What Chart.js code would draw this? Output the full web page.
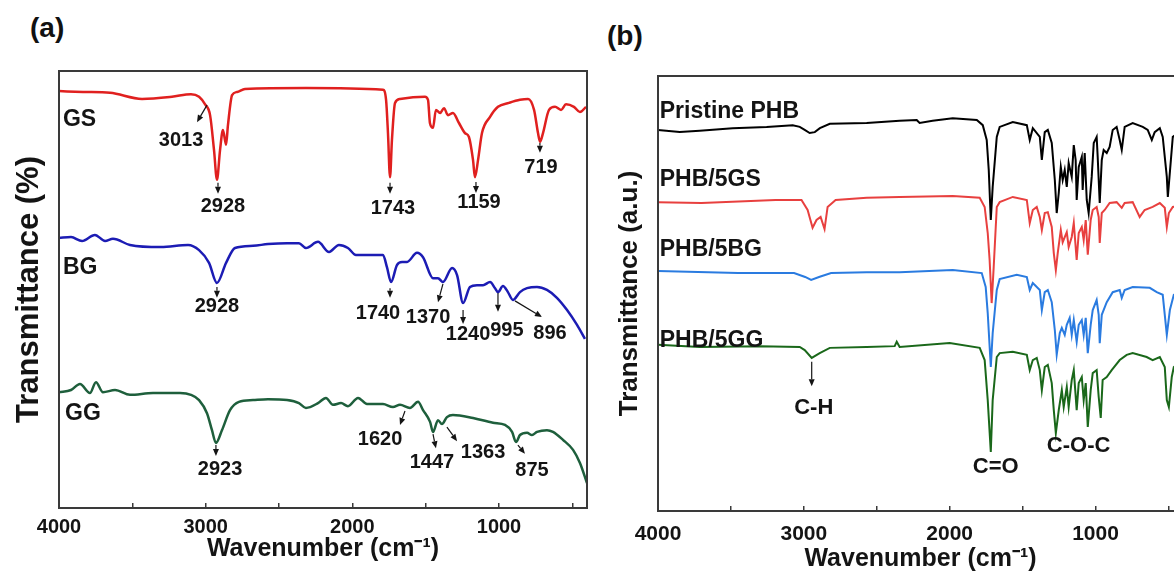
<!DOCTYPE html>
<html><head><meta charset="utf-8">
<script src="https://cdn.jsdelivr.net/npm/chart.js@4.4.1/dist/chart.umd.min.js"></script>
<style>
html,body{margin:0;padding:0;background:#fff;width:1174px;height:574px;overflow:hidden;position:relative;font-family:"Liberation Sans",Arial,sans-serif}
canvas{position:absolute;top:0}
#ca{left:0}
#cb{left:600px}
.plab{position:absolute;font-weight:bold;font-size:28px;line-height:1;color:#111;white-space:nowrap}
</style></head><body>
<div class="plab" style="left:30px;top:14px">(a)</div>
<div class="plab" style="left:607px;top:22px">(b)</div>
<canvas id="ca" width="600" height="574"></canvas>
<canvas id="cb" width="600" height="574"></canvas>
<script>
// ---------- Panel (a) data: wavenumber (cm-1) and transmittance (offset, %) ----------
const gsWave = [4000,3836,3652,3434,3230,3100,3045,3005,2970,2943,2923,2902,2882,2861,2848,2820,2786,2732,2316,1791,1770,1757,1743,1730,1709,1675,1505,1484,1471,1450,1430,1402,1375,1348,1314,1273,1232,1205,1177,1164,1143,1116,1061,1007,932,857,802,761,734,720,700,659,618,577,543,489,448,407];
const gsT = [95.4,95.2,95.0,93.6,94.1,94.7,94.1,92.4,89.9,81.9,75.1,81.9,86.5,83.1,87.6,94.5,95.2,95.9,96.1,95.7,93.4,85.8,75.7,84.2,92.7,93.6,94.1,93.4,88.1,87.0,91.1,90.4,91.5,89.9,90.4,88.1,85.8,84.9,79.6,75.7,79.6,85.8,89.5,91.8,92.7,93.4,93.6,91.1,85.8,83.8,85.8,91.1,91.8,91.1,92.4,91.8,90.6,91.8];
const bgWave = [4000,3918,3843,3755,3686,3632,3516,3305,3120,3045,2977,2923,2861,2800,2677,2575,2445,2364,2316,2234,2159,2091,2030,1975,1791,1764,1736,1696,1661,1627,1559,1518,1450,1416,1382,1320,1286,1245,1198,1150,1109,1061,1027,1007,973,939,905,857,809,741,673,605,536,468,414];
const bgT = [61.8,62.0,61.1,62.5,61.1,61.6,60.2,59.7,60.2,59.0,56.1,51.5,56.1,59.5,60.0,60.4,60.6,60.6,59.5,60.9,58.6,60.2,59.5,57.9,57.9,55.1,51.7,55.6,56.3,56.3,58.4,57.4,52.6,52.6,51.7,54.9,53.3,46.9,50.6,51.0,51.0,51.7,50.3,49.4,50.8,49.4,47.6,49.4,50.3,50.6,49.9,48.1,45.3,41.9,38.7];
const ggWave = [4000,3918,3857,3789,3748,3700,3618,3516,3359,3175,3100,3045,2991,2957,2930,2889,2834,2773,2677,2575,2445,2364,2316,2234,2180,2132,2077,2030,1961,1900,1791,1723,1675,1607,1552,1518,1470,1450,1416,1389,1355,1314,1177,1041,959,911,884,857,809,775,741,673,632,564,495,448,400];
const ggT = [26.5,27.0,28.4,26.3,28.8,26.5,27.0,25.9,26.3,26.3,25.9,24.7,21.7,17.8,14.9,17.8,22.4,24.3,24.7,24.9,24.7,24.0,22.9,24.0,25.2,23.6,24.0,23.3,25.2,23.8,23.8,23.1,23.6,22.9,24.3,22.4,19.7,17.4,20.1,19.2,20.8,21.3,20.6,19.5,19.0,17.4,15.1,16.7,17.2,16.7,17.4,17.8,17.4,15.6,13.3,10.3,5.7];

// ---------- Panel (b) data ----------
const phbWave = [4000,3851,3714,3488,3255,3076,3028,2994,2960,2925,2890,2822,2569,2343,2226,2206,2117,1979,1814,1773,1746,1732,1718,1705,1677,1657,1567,1471,1451,1430,1382,1368,1348,1327,1300,1279,1266,1252,1238,1225,1211,1197,1184,1163,1149,1136,1129,1115,1094,1088,1074,1060,1047,1026,1012,992,985,971,957,944,923,903,882,855,834,820,800,745,676,642,614,594,559,539,511,504,483,470,400];
const phbT = [87.6,87.1,87.4,88.0,88.3,88.7,88.3,87.6,86.9,87.1,88.0,89.0,89.2,89.7,89.9,89.2,89.7,90.3,89.9,88.7,85.3,78.4,66.9,74.5,86.0,88.3,89.4,88.7,85.3,88.0,86.0,80.7,87.1,87.6,84.6,76.1,68.5,73.1,79.1,76.1,78.4,74.5,80.0,76.8,84.1,80.7,71.5,79.1,81.4,73.8,82.3,71.5,68.5,76.8,84.6,86.0,81.4,70.8,80.7,83.0,82.3,83.7,87.6,88.3,85.3,83.0,88.3,89.2,88.3,87.6,85.3,87.1,88.0,86.0,76.8,72.2,80.7,86.0,87.6];
const phbGsWave = [4000,3702,3194,3016,2974,2940,2913,2885,2858,2837,2782,2569,2343,1979,1794,1760,1739,1726,1712,1698,1677,1657,1567,1471,1451,1430,1403,1382,1368,1348,1327,1300,1286,1272,1259,1238,1225,1197,1184,1163,1149,1129,1115,1094,1081,1067,1053,1033,1019,992,978,971,957,937,903,855,820,800,745,697,663,608,559,525,511,497,470,400];
const phbGsT = [71.0,70.8,71.5,71.5,69.2,65.1,66.9,67.6,64.8,69.9,71.5,72.0,72.2,72.4,72.0,69.9,63.9,57.7,47.8,56.1,69.9,71.0,72.2,71.5,66.2,69.2,69.9,67.6,64.6,68.5,68.7,65.3,59.3,55.4,59.3,64.6,61.8,64.1,60.7,63.0,66.2,57.7,63.9,65.3,62.3,66.9,58.9,66.9,69.2,69.9,67.6,61.6,68.5,69.2,70.8,71.0,69.7,70.8,71.0,67.6,69.2,69.9,70.8,69.7,65.3,68.5,69.9,70.3];
const phbBgWave = [4000,3451,3067,2991,2950,2896,2813,2569,2343,1979,1780,1753,1739,1718,1705,1677,1657,1540,1471,1451,1430,1382,1368,1348,1327,1300,1279,1266,1245,1231,1211,1197,1177,1163,1149,1129,1115,1094,1081,1067,1053,1033,1019,992,978,971,957,923,882,834,820,800,745,628,580,539,511,490,463,400];
const phbBgT = [55.2,54.7,54.7,53.8,53.1,53.8,54.7,54.9,54.9,55.4,54.7,51.5,45.5,33.1,40.9,50.8,53.3,54.3,53.8,50.8,52.4,50.8,46.2,50.3,50.8,48.0,41.6,35.9,40.9,42.1,40.5,42.8,44.4,40.5,43.9,38.9,42.8,43.9,40.5,44.4,36.3,42.8,46.2,48.5,45.1,38.6,45.1,48.0,50.3,50.8,49.0,50.8,51.5,51.3,50.3,49.7,40.5,46.2,49.7,50.3];
const phbGgWave = [4000,3714,3302,3028,2994,2946,2891,2822,2569,2377,2363,2343,2000,1794,1760,1739,1718,1705,1677,1657,1567,1471,1451,1430,1403,1382,1368,1348,1327,1300,1286,1272,1252,1231,1218,1197,1184,1163,1149,1129,1115,1094,1081,1067,1053,1033,1019,992,978,964,951,923,889,834,786,745,649,608,559,525,511,497,477,463,400];
const phbGgT = [38.2,37.7,37.9,37.7,37.0,35.2,36.3,37.5,37.7,37.9,38.9,37.7,38.6,37.5,34.7,25.5,13.6,25.5,35.4,36.3,36.6,35.9,32.4,34.7,35.2,32.4,27.8,33.1,33.6,29.4,23.2,17.9,23.2,27.8,23.9,28.5,23.9,30.1,32.4,23.2,29.4,30.8,25.5,29.4,19.3,27.8,31.7,32.4,26.2,21.4,30.1,30.8,32.4,34.7,35.9,36.3,35.4,34.7,35.4,33.1,25.5,23.9,30.8,33.1,34.7];

// ---------- Axis ticks ----------
const xTickValues = [4000,3500,3000,2500,2000,1500,1000,500];
const xTickLabels = [4000,3000,2000,1000];

// ---------- Annotations (data coordinates: wavenumber, transmittance) ----------
const namesA = [{t:'GS',w:3973,v:88.8},{t:'BG',w:3973,v:55.1},{t:'GG',w:3959,v:21.7}];
const peaksA = [
 {t:'3013',w:3168,v:84.2},{t:'2928',w:2882,v:69.1},{t:'1743',w:1723,v:68.6},{t:'1159',w:1136,v:69.8},{t:'719',w:714,v:78.0},
 {t:'2928',w:2923,v:46.0},{t:'1740',w:1825,v:44.6},{t:'1370',w:1484,v:43.7},{t:'1240',w:1211,v:39.8},{t:'995',w:946,v:40.7},{t:'896',w:652,v:40.0},
 {t:'2923',w:2902,v:8.7},{t:'1620',w:1811,v:15.6},{t:'1447',w:1457,v:10.5},{t:'1363',w:1109,v:12.6},{t:'875',w:775,v:8.5}
];
const arrowsA = [
 [2991,92.2,3059,88.3],[2916,74.4,2916,71.9],[1743,74.4,1743,71.9],[1157,74.6,1157,72.1],[721,83.5,721,81.3],
 [2923,50.6,2923,48.1],[1743,50.3,1743,48.1],[1382,51.3,1416,47.1],[1245,45.3,1245,42.1],[1007,49.2,1007,44.9],[891,47.4,707,43.7],
 [2930,14.4,2930,11.9],[1641,22.2,1675,19.0],[1450,16.9,1430,13.7],[1355,18.5,1286,15.3],[871,14.4,823,12.4]
];
const namesB = [{t:'Pristine PHB',w:3988,v:91.7},{t:'PHB/5GS',w:3988,v:76.1},{t:'PHB/5BG',w:3988,v:60.0},{t:'PHB/5GG',w:3988,v:39.1}];
const peaksB = [{t:'C-H',w:2932,v:23.7},{t:'C=O',w:1684,v:10.1},{t:'C-O-C',w:1116,v:14.9}];
const arrowsB = [[2946,34.3,2946,28.7]];

const FONT = '"Liberation Sans", Arial, sans-serif';
const INK = '#141414';

function drawArrow(ctx, x1, y1, x2, y2) {
  const ang = Math.atan2(y2 - y1, x2 - x1), L = 7, W = 3;
  const bx = x2 - L * Math.cos(ang), by = y2 - L * Math.sin(ang);
  ctx.beginPath(); ctx.moveTo(x1, y1); ctx.lineTo(bx, by); ctx.stroke();
  ctx.beginPath(); ctx.moveTo(x2, y2);
  ctx.lineTo(bx + W * Math.sin(ang), by - W * Math.cos(ang));
  ctx.lineTo(bx - W * Math.sin(ang), by + W * Math.cos(ang));
  ctx.closePath(); ctx.fill();
}

const framePlugin = {
  id: 'frame',
  afterDraw(chart) {
    const {ctx, chartArea: a} = chart;
    ctx.save(); ctx.strokeStyle = '#3a3a3a'; ctx.lineWidth = 2;
    ctx.strokeRect(a.left, a.top, a.right - a.left, a.bottom - a.top);
    ctx.restore();
  }
};

const annotPlugin = {
  id: 'annot',
  afterDatasetsDraw(chart, args, o) {
    const {ctx, scales: {x, y}} = chart;
    ctx.save();
    ctx.fillStyle = INK; ctx.strokeStyle = INK; ctx.lineWidth = 1.2;
    ctx.textBaseline = 'middle';
    ctx.font = o.nameFont; ctx.textAlign = 'left';
    o.names.forEach(n => ctx.fillText(n.t, x.getPixelForValue(n.w), y.getPixelForValue(n.v)));
    ctx.font = o.peakFont; ctx.textAlign = 'center';
    o.peaks.forEach(p => ctx.fillText(p.t, x.getPixelForValue(p.w), y.getPixelForValue(p.v)));
    o.arrows.forEach(a => drawArrow(ctx, x.getPixelForValue(a[0]), y.getPixelForValue(a[1]), x.getPixelForValue(a[2]), y.getPixelForValue(a[3])));
    ctx.restore();
  }
};

function makeChart(id, sets, o) {
  return new Chart(document.getElementById(id), {
    type: 'line',
    data: {
      datasets: sets.map(s => ({
        label: s.label,
        data: s.w.map((w, i) => ({x: w, y: s.v[i]})),
        borderColor: s.color, borderWidth: o.lw, pointRadius: 0, fill: false,
        cubicInterpolationMode: o.mono ? 'monotone' : 'default', tension: 0
      }))
    },
    options: {
      responsive: false, animation: false, devicePixelRatio: 1,
      layout: {padding: {top: o.top, right: o.right, left: 0, bottom: 0}},
      plugins: {legend: {display: false}, tooltip: {enabled: false}, annot: o.annot},
      scales: {
        x: {
          type: 'linear', position: 'bottom', reverse: true, min: 400, max: 4000,
          afterBuildTicks: s => { s.ticks = xTickValues.map(v => ({value: v})); },
          afterFit: s => { s.height = o.xh; },
          grid: {display: true, drawOnChartArea: false, drawTicks: true, tickLength: -5, color: '#3a3a3a', lineWidth: 1.5},
          border: {display: false},
          ticks: {padding: o.tickPad, color: INK, autoSkip: false, maxRotation: 0,
                  font: {family: FONT, size: o.tickSize, weight: 'bold'},
                  callback: v => xTickLabels.includes(v) ? String(v) : ''},
          title: {display: true, text: 'Wavenumber (cm\u207B\u00B9)', color: INK,
                  font: {family: FONT, size: 25, weight: 'bold'}, padding: {top: 0, bottom: o.xtPad}}
        },
        y: {
          min: 0, max: 100,
          afterFit: s => { s.width = o.yw; },
          grid: {display: false}, border: {display: false}, ticks: {display: false},
          title: {display: true, text: o.ytitle, color: INK,
                  font: {family: FONT, size: o.ytSize, weight: 'bold'}, padding: {top: o.ytPad, bottom: 0}}
        }
      }
    },
    plugins: [annotPlugin, framePlugin]
  });
}

makeChart('ca', [
  {label: 'GS', w: gsWave, v: gsT, color: '#e0201f'},
  {label: 'BG', w: bgWave, v: bgT, color: '#1c1cb4'},
  {label: 'GG', w: ggWave, v: ggT, color: '#1e5f3c'}
], {lw: 2.5, mono: true, top: 71, right: 13, xh: 66, yw: 59, tickPad: 12, tickSize: 20, xtPad: 10,
    ytitle: 'Transmittance (%)', ytSize: 31, ytPad: 11,
    annot: {names: namesA, peaks: peaksA, arrows: arrowsA,
            nameFont: 'bold 23px ' + FONT, peakFont: 'bold 20px ' + FONT}});

makeChart('cb', [
  {label: 'Pristine PHB', w: phbWave, v: phbT, color: '#000000'},
  {label: 'PHB/5GS', w: phbGsWave, v: phbGsT, color: '#e8403f'},
  {label: 'PHB/5BG', w: phbBgWave, v: phbBgT, color: '#2a7be0'},
  {label: 'PHB/5GG', w: phbGgWave, v: phbGgT, color: '#1a681a'}
], {lw: 2, mono: false, top: 76, right: 17, xh: 63, yw: 58, tickPad: 16, tickSize: 21, xtPad: 0,
    ytitle: 'Transmittance (a.u.)', ytSize: 26, ytPad: 14,
    annot: {names: namesB, peaks: peaksB, arrows: arrowsB,
            nameFont: 'bold 23px ' + FONT, peakFont: 'bold 22px ' + FONT}});
</script>
</body></html>
